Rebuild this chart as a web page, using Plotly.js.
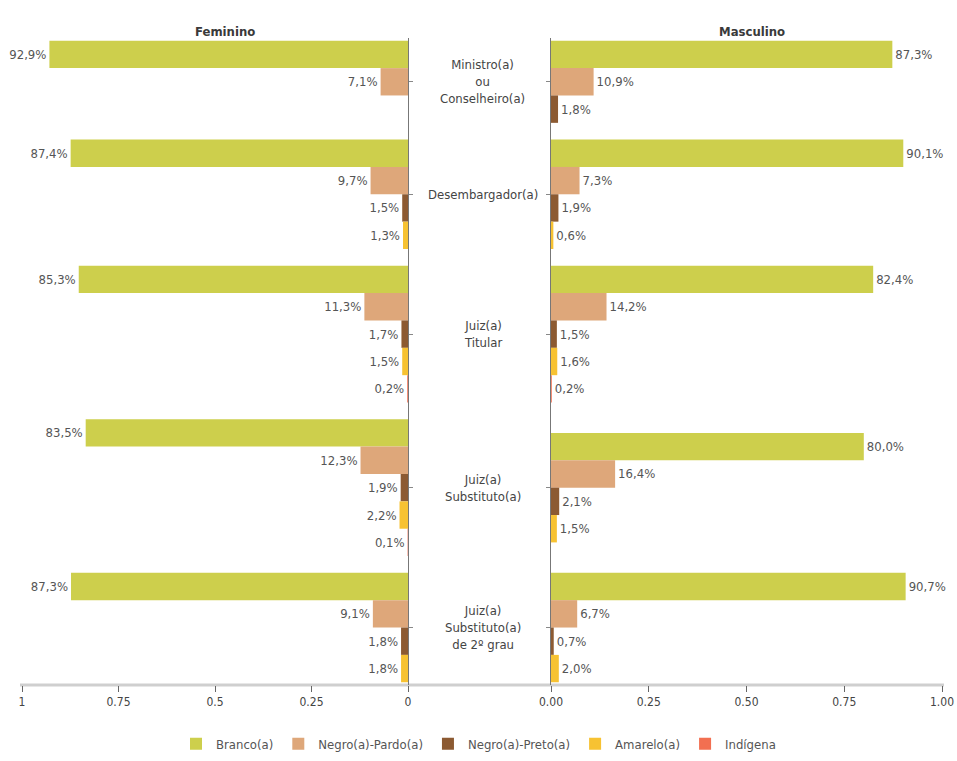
<!DOCTYPE html>
<html>
<head>
<meta charset="utf-8">
<script src="https://cdn.plot.ly/plotly-3.0.1.min.js"></script>
<style>html,body{margin:0;padding:0;background:#fff;}#chart{width:957px;height:761px;}</style>
</head>
<body>
<div id="chart"></div>
<script>
// ---- data (percent) ----
const categories = ['Ministro(a)<br>ou<br>Conselheiro(a)', 'Desembargador(a)', 'Juiz(a)<br>Titular', 'Juiz(a)<br>Substituto(a)', 'Juiz(a)<br>Substituto(a)<br>de 2º grau'];
const seriesNames = ['Branco(a)', 'Negro(a)-Pardo(a)', 'Negro(a)-Preto(a)', 'Amarelo(a)', 'Indígena'];
const seriesColors = ['#CDCF4C', '#DEA77A', '#8C5A32', '#F7C232', '#F26F51'];

const femBranco   = [92.9, 87.4, 85.3, 83.5, 87.3];
const femPardo    = [7.1, 9.7, 11.3, 12.3, 9.1];
const femPreto    = [0, 1.5, 1.7, 1.9, 1.8];
const femAmarelo  = [null, 1.3, 1.5, 2.2, 1.8];
const femIndigena = [null, null, 0.2, 0.1, null];

const mascBranco   = [87.3, 90.1, 82.4, 80.0, 90.7];
const mascPardo    = [10.9, 7.3, 14.2, 16.4, 6.7];
const mascPreto    = [1.8, 1.9, 1.5, 2.1, 0.7];
const mascAmarelo  = [null, 0.6, 1.6, 1.5, 2.0];
const mascIndigena = [null, null, 0.2, null, null];

const leftTicks = [0, 0.25, 0.5, 0.75, 1];
const rightTicks = [0, 0.25, 0.5, 0.75, 1];

// ---- layout helpers ----
const fem = [femBranco, femPardo, femPreto, femAmarelo, femIndigena];
const masc = [mascBranco, mascPardo, mascPreto, mascAmarelo, mascIndigena];
const GAP = 0.61, PAD = 0.1;
function count(panel, c) { return panel.filter(s => s[c] !== null).length; }
const nSlots = categories.map((_, c) => Math.max(count(fem, c), count(masc, c)));
const centers = [];
let off = PAD;
categories.forEach((_, c) => { centers.push(off + nSlots[c] / 2); off += nSlots[c] + GAP; });
const total = off - GAP + PAD;

function fmt(v) { return v > 0 ? v.toFixed(1).replace('.', ',') + '%' : ''; }

const FONT = '"Liberation Sans Narrow", "DejaVu Sans Condensed", "Roboto Condensed", "Arial Narrow", sans-serif';
const traces = [];
function addPanel(panel, xa, ya, showLegend) {
  panel.forEach((s, si) => {
    const xs = [], ys = [], ts = [];
    categories.forEach((_, c) => {
      const k = count(panel, c);
      let idx = 0;
      for (let j = 0; j < si; j++) if (panel[j][c] !== null) idx++;
      if (s[c] === null) return;
      xs.push(s[c] / 100);
      ys.push(centers[c] - k / 2 + idx + 0.5);
      ts.push(fmt(s[c]));
    });
    traces.push({
      type: 'bar', orientation: 'h', x: xs, y: ys, width: 1,
      text: ts, textposition: 'outside', cliponaxis: false,
      outsidetextfont: {family: FONT, size: 13, color: '#555'},
      marker: {color: seriesColors[si], line: {width: 0}},
      name: seriesNames[si], legendgroup: seriesNames[si], showlegend: showLegend,
      xaxis: xa, yaxis: ya, hoverinfo: 'skip'
    });
  });
}
addPanel(fem, 'x', 'y', true);
addPanel(masc, 'x2', 'y2', false);

const W = 957, H = 761;
const yDom = [(H - 685) / H, (H - 38) / H];
const annotations = categories.map((c, i) => ({
  text: c, x: 483 / W, xref: 'paper', y: centers[i], yref: 'y',
  showarrow: false, xanchor: 'center', yanchor: 'middle',
  font: {family: FONT, size: 13, color: '#444'}
}));
annotations.push({text: 'Feminino', x: 193 / W, xref: 'paper', y: (H - 22) / H, yref: 'paper', showarrow: false,
  font: {family: FONT, size: 13, color: '#3a3a3a', weight: 'bold'}});
annotations.push({text: 'Masculino', x: 787 / W, xref: 'paper', y: (H - 22) / H, yref: 'paper', showarrow: false,
  font: {family: FONT, size: 13, color: '#3a3a3a', weight: 'bold'}});

const xCommon = {showgrid: false, zeroline: false, showline: false, ticks: 'outside', ticklen: 6, tickwidth: 1, tickcolor: '#666',
  tickfont: {family: FONT, size: 12, color: '#444'}, fixedrange: true};
const yCommon = {range: [total, 0], showgrid: false, zeroline: false, showline: true, linecolor: '#777', linewidth: 1,
  tickvals: centers, ticktext: centers.map(() => ''), ticks: 'outside', ticklen: 4, tickcolor: '#888', domain: yDom};

const layout = {
  width: W, height: H, margin: {l: 0, r: 0, t: 0, b: 0},
  paper_bgcolor: '#fff', plot_bgcolor: 'rgba(0,0,0,0)',
  barmode: 'overlay', font: {family: FONT, color: '#444'},
  xaxis: Object.assign({}, xCommon, {domain: [22 / W, 408 / W], range: [1, 0], tickvals: leftTicks, anchor: 'y'}),
  xaxis2: Object.assign({}, xCommon, {domain: [551 / W, 942 / W], range: [0, 1], tickvals: rightTicks, tickformat: '.2f', anchor: 'y2'}),
  yaxis: Object.assign({}, yCommon, {anchor: 'x', side: 'right'}),
  yaxis2: Object.assign({}, yCommon, {anchor: 'x2', side: 'left'}),
  shapes: [{type: 'line', xref: 'paper', yref: 'paper', x0: 20 / W, x1: 944 / W, y0: yDom[0], y1: yDom[0],
    line: {color: '#cfcfcf', width: 3}, layer: 'below'}],
  annotations: annotations,
  legend: {orientation: 'h', x: 0.5, xanchor: 'center', y: 0.003, yanchor: 'bottom',
    font: {family: FONT, size: 13, color: '#555'}, itemwidth: 30, traceorder: 'normal'},
  showlegend: true
};
Plotly.newPlot('chart', traces, layout, {displayModeBar: false, staticPlot: true});
</script>
</body>
</html>
